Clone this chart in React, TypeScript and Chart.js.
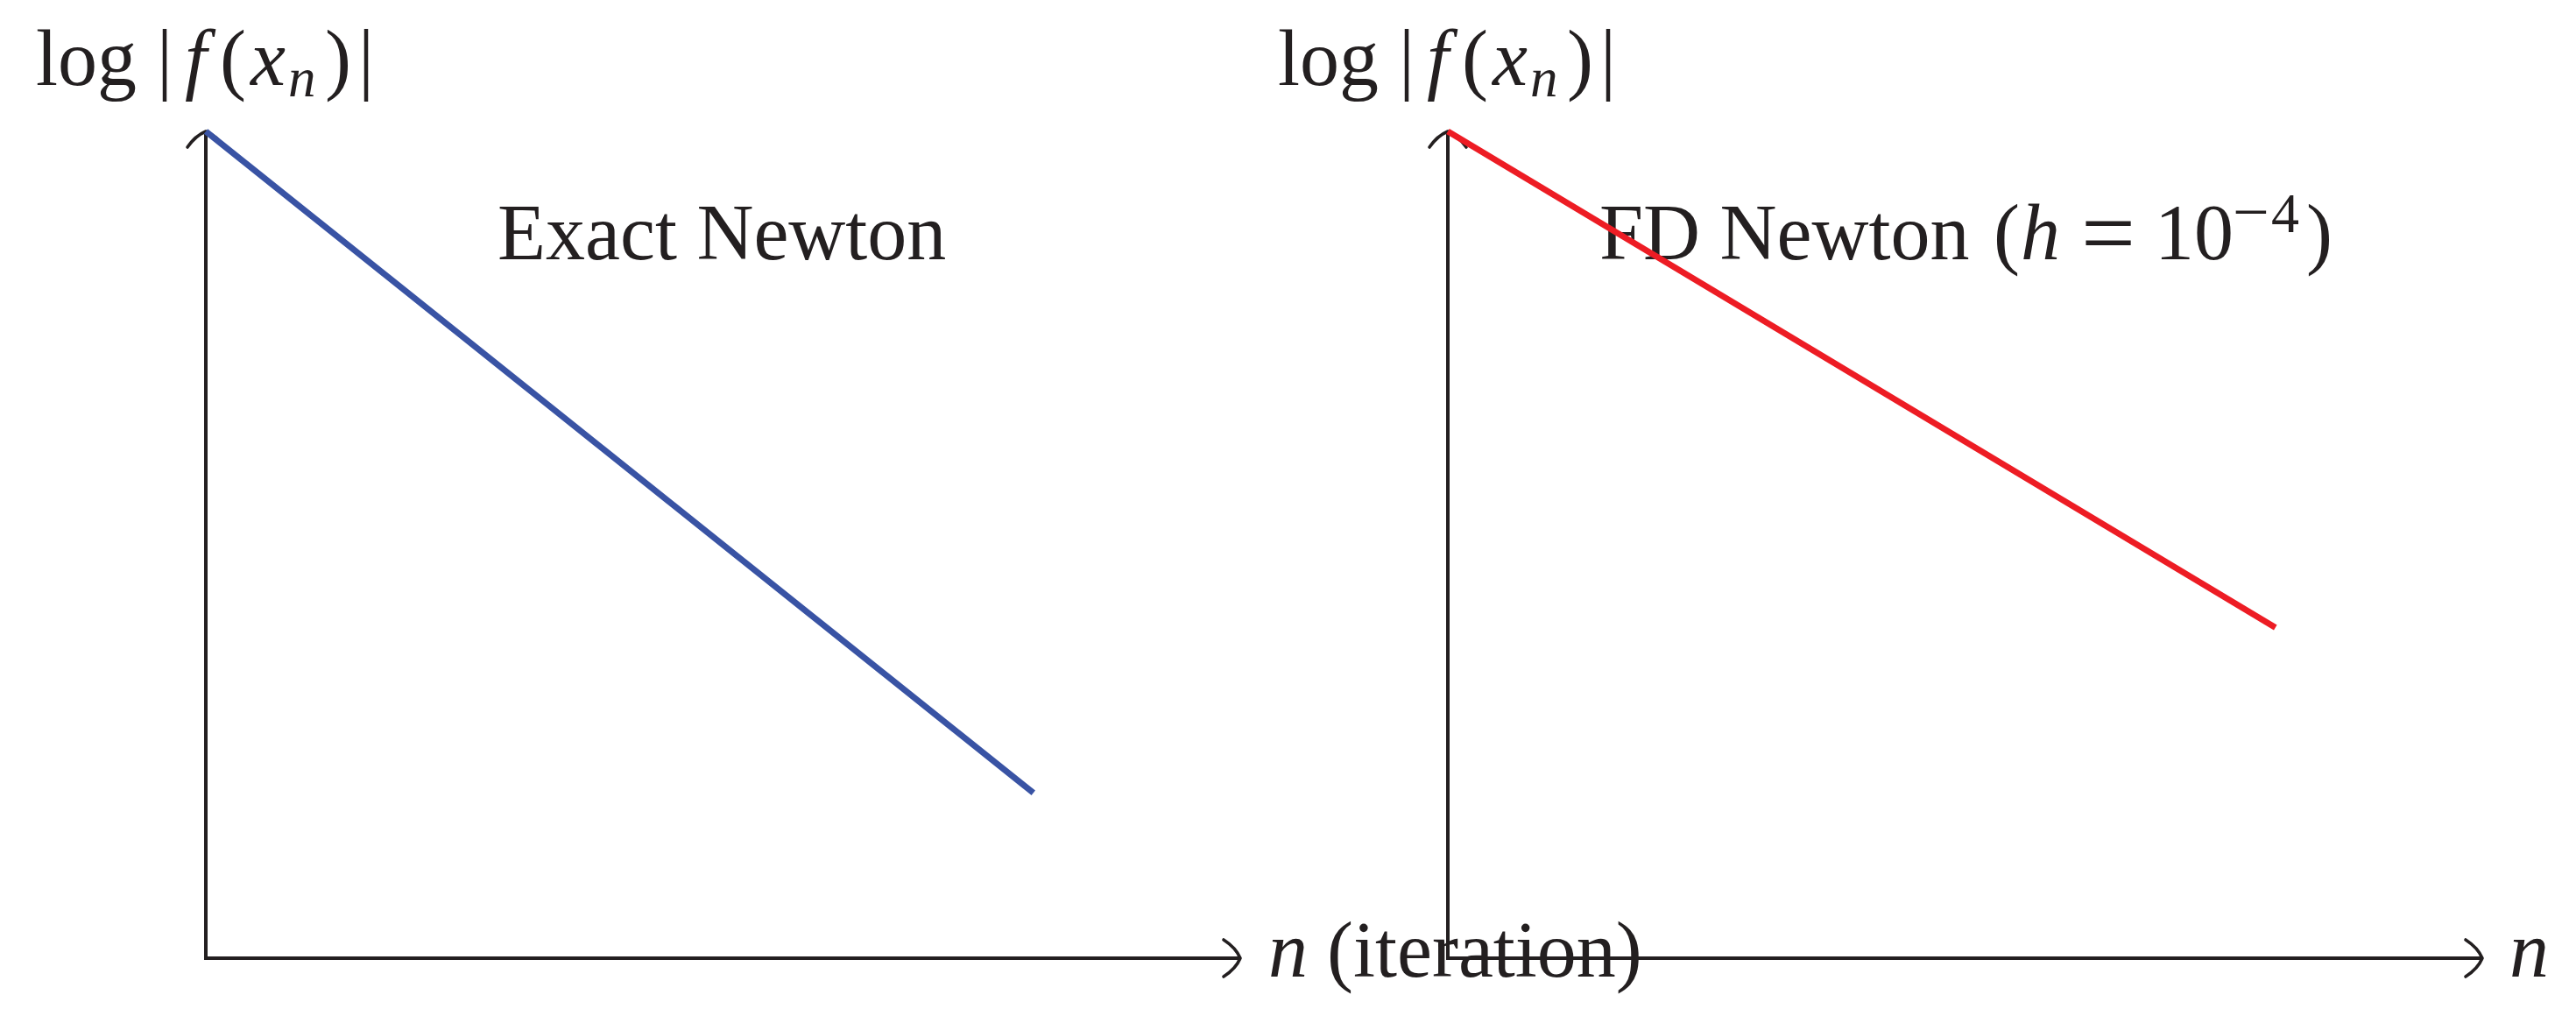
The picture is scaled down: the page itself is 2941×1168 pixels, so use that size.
import React, { useEffect, useRef } from "react";
import { Chart, registerables } from "chart.js";

Chart.register(...registerables);

// ---- data (iteration n vs. log|f(x_n)|, schematic units) ----
const exactIterations = [0, 8];
const exactLogResidual = [10, 2];
const fdIterations = [0, 8];
const fdLogResidual = [10, 4];

const xRange = [0, 10];
const yRange = [0, 10];

const FONT = '"Liberation Serif", "Times New Roman", serif';
const INK = "#231f20";
const BLUE = "#3953a4";
const RED = "#ed1c24";

type Seg = { t: string; dx: number; dy?: number; it?: boolean; size?: number };

const yLabelSegs: Seg[] = [
  { t: "log", dx: -2 },
  { t: "|", dx: 136 },
  { t: "f", dx: 168, it: true },
  { t: "(", dx: 208 },
  { t: "x", dx: 243, it: true },
  { t: "n", dx: 286, it: true, size: 63, dy: 13 },
  { t: ")", dx: 328 },
  { t: "|", dx: 366 },
];

const exactXLabel: Seg[] = [
  { t: "n", dx: 32, it: true },
  { t: "(iteration)", dx: 99 },
];
const fdXLabel: Seg[] = [{ t: "n", dx: 31, it: true }];

const exactNote: Seg[] = [{ t: "Exact Newton", dx: -2 }];
const fdNote: Seg[] = [
  { t: "FD Newton", dx: -1 },
  { t: "(", dx: 449 },
  { t: "h", dx: 480, it: true },
  { t: "=", dx: 549, size: 110, dy: 7 },
  { t: "10", dx: 633 },
  { t: "\u2212", dx: 722, size: 74, dy: -29 },
  { t: "4", dx: 766, size: 64, dy: -31 },
  { t: ")", dx: 806 },
];

function drawRich(ctx: CanvasRenderingContext2D, segs: Seg[], x: number, y: number) {
  ctx.save();
  ctx.fillStyle = INK;
  ctx.textAlign = "left";
  ctx.textBaseline = "alphabetic";
  for (const s of segs) {
    ctx.font = `${s.it ? "italic " : ""}${s.size ?? 90}px ${FONT}`;
    ctx.fillText(s.t, x + s.dx, y + (s.dy ?? 0));
  }
  ctx.restore();
}

const tikzPlugin = {
  id: "tikz",
  beforeDatasetsDraw(chart: any, _args: any, opts: any) {
    const ctx: CanvasRenderingContext2D = chart.ctx;
    const xs = chart.scales.x;
    const ys = chart.scales.y;
    const x0 = xs.getPixelForValue(xs.min);
    const x1 = xs.getPixelForValue(xs.max);
    const y0 = ys.getPixelForValue(ys.min);
    const y1 = ys.getPixelForValue(ys.max);

    // note text (drawn first so the series line crosses over it)
    drawRich(ctx, opts.note, xs.getPixelForValue(opts.noteX), ys.getPixelForValue(opts.noteY));
    // axis labels
    drawRich(ctx, opts.yLabel, x0 - 192, y1 - 53);
    drawRich(ctx, opts.xLabel, x1, y0 + 21);

    ctx.save();
    ctx.strokeStyle = INK;
    ctx.lineWidth = 4;
    ctx.lineCap = "butt";
    ctx.beginPath();
    ctx.moveTo(x0, y1 + 1);
    ctx.lineTo(x0, y0 + 2);
    ctx.moveTo(x0 - 2, y0);
    ctx.lineTo(x1 - 1, y0);
    ctx.stroke();

    ctx.lineWidth = 3.6;
    ctx.lineCap = "round";
    // y arrow head
    ctx.beginPath();
    ctx.moveTo(x0, y1);
    ctx.quadraticCurveTo(x0 - 12, y1 + 5, x0 - 21, y1 + 18);
    ctx.moveTo(x0, y1);
    ctx.quadraticCurveTo(x0 + 12, y1 + 5, x0 + 21, y1 + 18);
    // x arrow head
    ctx.moveTo(x1, y0);
    ctx.quadraticCurveTo(x1 - 5, y0 - 12, x1 - 19, y0 - 21);
    ctx.moveTo(x1, y0);
    ctx.quadraticCurveTo(x1 - 5, y0 + 12, x1 - 19, y0 + 21);
    ctx.stroke();
    ctx.restore();
  },
};

function makeConfig(xsData: number[], ysData: number[], color: string, pad: any, plug: any): any {
  return {
    type: "line",
    data: {
      datasets: [
        {
          data: xsData.map((x, i) => ({ x, y: ysData[i] })),
          borderColor: color,
          borderWidth: 7,
          borderCapStyle: "butt",
          pointRadius: 0,
          fill: false,
          tension: 0,
          clip: false,
        },
      ],
    },
    options: {
      responsive: false,
      animation: false,
      layout: { padding: pad },
      scales: {
        x: { type: "linear", min: xRange[0], max: xRange[1], display: false },
        y: { type: "linear", min: yRange[0], max: yRange[1], display: false },
      },
      plugins: {
        legend: { display: false },
        tooltip: { enabled: false },
        tikz: plug,
      },
    },
    plugins: [tikzPlugin],
  };
}

function ChartCanvas({ config, z }: { config: any; z: number }) {
  const ref = useRef<HTMLCanvasElement | null>(null);
  useEffect(() => {
    if (!ref.current) return;
    const chart = new Chart(ref.current, config);
    return () => chart.destroy();
  }, [config]);
  return (
    <canvas
      ref={ref}
      width={2941}
      height={1168}
      style={{ position: "absolute", left: 0, top: 0, width: 2941, height: 1168, zIndex: z }}
    />
  );
}

const leftConfig = makeConfig(
  exactIterations,
  exactLogResidual,
  BLUE,
  { left: 235, top: 150, right: 2941 - 1416, bottom: 1168 - 1094 },
  { yLabel: yLabelSegs, xLabel: exactXLabel, note: exactNote, noteX: 2.837, noteY: 8.453 }
);

const rightConfig = makeConfig(
  fdIterations,
  fdLogResidual,
  RED,
  { left: 1653, top: 150, right: 2941 - 2834, bottom: 1168 - 1094 },
  { yLabel: yLabelSegs, xLabel: fdXLabel, note: fdNote, noteX: 1.473, noteY: 8.453 }
);

export default function App() {
  return (
    <div style={{ position: "absolute", left: 0, top: 0, width: 2941, height: 1168, background: "#fff", overflow: "hidden" }}>
      <ChartCanvas config={leftConfig} z={1} />
      <ChartCanvas config={rightConfig} z={2} />
    </div>
  );
}
